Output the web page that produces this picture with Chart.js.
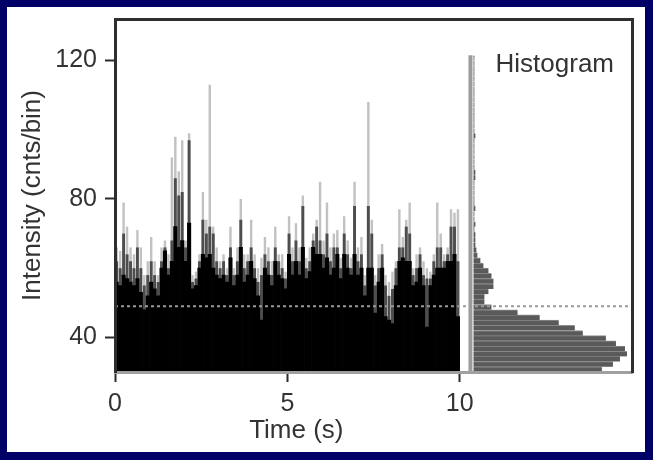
<!DOCTYPE html>
<html>
<head>
<meta charset="utf-8">
<script src="https://cdn.jsdelivr.net/npm/chart.js@4.4.1/dist/chart.umd.min.js"></script>
<style>
  html, body { margin: 0; padding: 0; background: #000066; }
  body { width: 653px; height: 460px; position: relative; overflow: hidden; }
  #panel { position: absolute; left: 7px; top: 7px; width: 638px; height: 445px; background: #fff; }
  #panel canvas { display: block; }
</style>
</head>
<body>
<div id="panel"><canvas id="trace-chart" width="638" height="445"></canvas></div>
<script>
// time bins of the trace (s)
const times = [
  0.05, 0.15, 0.25, 0.35, 0.45, 0.55, 0.65, 0.75, 0.85, 0.95,
  1.05, 1.15, 1.25, 1.35, 1.45, 1.55, 1.65, 1.75, 1.85, 1.95,
  2.05, 2.15, 2.25, 2.35, 2.45, 2.55, 2.65, 2.75, 2.85, 2.95,
  3.05, 3.15, 3.25, 3.35, 3.45, 3.55, 3.65, 3.75, 3.85, 3.95,
  4.05, 4.15, 4.25, 4.35, 4.45, 4.55, 4.65, 4.75, 4.85, 4.95,
  5.05, 5.15, 5.25, 5.35, 5.45, 5.55, 5.65, 5.75, 5.85, 5.95,
  6.05, 6.15, 6.25, 6.35, 6.45, 6.55, 6.65, 6.75, 6.85, 6.95,
  7.05, 7.15, 7.25, 7.35, 7.45, 7.55, 7.65, 7.75, 7.85, 7.95,
  8.05, 8.15, 8.25, 8.35, 8.45, 8.55, 8.65, 8.75, 8.85, 8.95,
  9.05, 9.15, 9.25, 9.35, 9.45, 9.55, 9.65, 9.75, 9.85, 9.95
];
// highest counts in each time bin (light spikes)
const peakCounts = [
  66, 65, 79, 72, 66, 64, 71, 66, 58, 62,
  69, 62, 58, 66, 68, 64, 92, 98, 88, 97,
  68, 99, 58, 59, 64, 82, 74, 113, 72, 66,
  62, 64, 60, 72, 60, 66, 80, 64, 64, 74,
  64, 60, 63, 69, 66, 62, 72, 64, 64, 59,
  75, 66, 73, 66, 81, 63, 66, 70, 74, 85,
  68, 79, 66, 70, 71, 63, 75, 68, 63, 85,
  66, 69, 58, 108, 74, 58, 64, 67, 58, 56,
  59, 62, 77, 69, 74, 79, 60, 64, 66, 62,
  60, 59, 64, 79, 70, 64, 66, 77, 76, 77
];
// upper typical counts (dark grey)
const midCounts = [
  62, 60, 70, 64, 62, 60, 66, 60, 55, 58,
  62, 58, 56, 62, 66, 60, 68, 86, 81, 82,
  66, 97, 56, 57, 62, 74, 70, 72, 70, 62,
  60, 62, 58, 66, 58, 62, 74, 60, 62, 66,
  60, 56, 58, 64, 62, 58, 66, 62, 60, 57,
  70, 62, 68, 62, 78, 60, 62, 68, 72, 68,
  64, 70, 62, 66, 66, 60, 70, 64, 60, 78,
  62, 64, 55, 78, 70, 55, 60, 64, 55, 52,
  54, 60, 66, 66, 72, 70, 58, 60, 64, 58,
  57, 57, 62, 66, 66, 62, 64, 72, 72, 62
];
// dense part of the trace (black)
const coreCounts = [
  56, 55, 58, 57, 56, 55, 57, 53, 48, 52,
  56, 54, 52, 60, 65, 58, 62, 72, 66, 68,
  62, 73, 54, 55, 60, 64, 63, 64, 60, 58,
  57, 58, 56, 63, 55, 58, 66, 56, 58, 62,
  57, 52, 45, 60, 58, 55, 62, 58, 57, 54,
  64, 58, 62, 58, 66, 57, 59, 66, 64, 64,
  60, 63, 58, 60, 64, 57, 64, 60, 58, 64,
  58, 60, 52, 60, 60, 47, 56, 60, 46, 45,
  44, 55, 62, 63, 62, 62, 55, 56, 60, 55,
  43, 55, 58, 60, 60, 60, 62, 62, 64, 46
];
// histogram bins (intensity, bin centres) and number of time bins in each
const histBins = [
  30.75, 32.25, 33.75, 35.25, 36.75, 38.25, 39.75, 41.25, 42.75, 44.25,
  45.75, 47.25, 48.75, 50.25, 51.75, 53.25, 54.75, 56.25, 57.75, 59.25,
  60.75, 62.25, 63.75, 65.25, 66.75, 68.25, 69.75, 71.25, 72.75, 74.25,
  75.75, 77.25, 78.75, 80.25, 81.75, 83.25, 84.75, 86.25, 87.75, 89.25,
  90.75, 92.25, 93.75, 95.25, 96.75, 98.25, 99.75, 101.25, 102.75, 104.25,
  105.75, 107.25, 108.75, 110.25, 111.75, 113.25, 114.75, 116.25, 117.75, 119.25,
  120.75
];
const histCounts = [
  128, 139, 146, 153, 151, 142, 132, 109, 101, 85,
  66, 44, 18, 11, 11, 15, 20, 20, 18, 15,
  10, 7, 4, 3, 2, 2, 2, 1, 2, 1,
  1, 2, 1, 1, 1, 1, 1, 2, 2, 1,
  1, 1, 1, 1, 1, 2, 1, 1, 1, 1,
  1, 1, 1, 1, 1, 1, 1, 1, 1, 1,
  1
];
const xTicks = [0, 5, 10];
const yTicks = [40, 80, 120];
const threshold = 49;

// layout of the shared frame
const timeMax = 15;      // right edge of the frame on the time axis
const histBase = 10.4;   // where the histogram starts on the time axis
const histMax = 158;     // counts reaching the right edge
const yMin = 30, yMax = 132;

const font = '"Liberation Sans", Arial, Helvetica, sans-serif';
const textColor = '#333';

const toPoints = vals => vals.map((v, i) => ({ x: times[i], y: v }));
const traceBar = { grouped: false, categoryPercentage: 1, borderWidth: 0 };

const overlay = {
  id: 'overlay',
  afterDatasetsDraw(chart) {
    const { ctx, chartArea: area, scales } = chart;
    ctx.save();
    // histogram axis line
    const half = (histBins[1] - histBins[0]) / 2;
    const hx = scales.xh.getPixelForValue(0) - 3;
    ctx.strokeStyle = '#9c9c9c';
    ctx.lineWidth = 4;
    ctx.beginPath();
    ctx.moveTo(hx, area.bottom);
    ctx.lineTo(hx, scales.yh.getPixelForValue(histBins[histBins.length - 1] + half));
    ctx.stroke();
    // threshold
    const ty = scales.y.getPixelForValue(threshold);
    ctx.setLineDash([3, 3]);
    ctx.strokeStyle = '#9a9a9a';
    ctx.lineWidth = 2;
    ctx.beginPath();
    ctx.moveTo(area.left, ty);
    ctx.lineTo(area.right, ty);
    ctx.stroke();
    ctx.setLineDash([]);
    // labels
    ctx.fillStyle = textColor;
    ctx.font = '26px ' + font;
    ctx.textBaseline = 'alphabetic';
    ctx.textAlign = 'right';
    ctx.fillText('Histogram', area.right - 18, area.top + 53);
    // time axis title, centred under the trace
    ctx.textAlign = 'center';
    ctx.fillText('Time (s)', scales.x.getPixelForValue(xTicks[1]) + 9, area.bottom + 66);
    ctx.restore();
  }
};

new Chart(document.getElementById('trace-chart'), {
  type: 'bar',
  data: {
    datasets: [
      Object.assign({ label: 'core', data: toPoints(coreCounts), backgroundColor: '#000', barPercentage: 1, order: 2 }, traceBar),
      Object.assign({ label: 'mid', data: toPoints(midCounts), backgroundColor: '#4d4d4d', barPercentage: 0.85, order: 3 }, traceBar),
      Object.assign({ label: 'peak', data: toPoints(peakCounts), backgroundColor: '#c2c2c2', barPercentage: 0.7, order: 4 }, traceBar),
      {
        label: 'histogram',
        data: histBins.map((b, i) => ({ x: histCounts[i], y: b })),
        indexAxis: 'y',
        xAxisID: 'xh',
        yAxisID: 'yh',
        backgroundColor: '#5a5a5a',
        borderColor: '#8e8e8e',
        borderWidth: { top: 1, bottom: 0, left: 0, right: 0 },
        borderSkipped: false,
        grouped: false,
        barPercentage: 1,
        categoryPercentage: 1,
        order: 1
      }
    ]
  },
  options: {
    responsive: false,
    animation: false,
    layout: { padding: { left: 0, top: 12, right: 13, bottom: 0 } },
    scales: {
      x: {
        type: 'linear',
        position: 'bottom',
        min: 0,
        max: timeMax,
        offset: false,
        afterBuildTicks: scale => { scale.ticks = xTicks.map(v => ({ value: v })); },
        afterFit: scale => { scale.height = 80; scale.paddingRight = 0; },
        grid: { drawOnChartArea: false, offset: false, tickLength: 10, tickWidth: 2, tickColor: '#2a2a2a' },
        border: { display: true, color: '#a0a0a0', width: 3, z: 1 },
        ticks: { color: textColor, font: { family: font, size: 25 }, padding: 7, maxRotation: 0 }
      },
      y: {
        type: 'linear',
        position: 'left',
        min: yMin,
        max: yMax,
        afterBuildTicks: scale => { scale.ticks = yTicks.map(v => ({ value: v })); },
        afterFit: scale => { scale.width = 108; scale.paddingTop = 0; scale.paddingBottom = 0; },
        grid: { drawOnChartArea: false, tickLength: 10, tickWidth: 2, tickColor: '#2a2a2a' },
        border: { display: true, color: '#2e2e2e', width: 3, z: 1 },
        ticks: { color: textColor, font: { family: font, size: 25 }, padding: 8 },
        title: { display: true, text: 'Intensity (cnts/bin)', color: textColor, font: { family: font, size: 26, lineHeight: 1.2 }, padding: { top: 10, bottom: 0 } }
      },
      xh: {
        axis: 'x',
        type: 'linear',
        position: 'top',
        min: -histMax * histBase / (timeMax - histBase),
        max: histMax,
        offset: false,
        afterFit: scale => { scale.height = 0; },
        grid: { display: false, drawTicks: false, offset: false },
        border: { display: true, color: '#2e2e2e', width: 3, z: 1 },
        ticks: { display: false }
      },
      yh: {
        axis: 'y',
        type: 'linear',
        position: 'right',
        min: yMin,
        max: yMax,
        offset: false,
        afterFit: scale => { scale.width = 0; },
        grid: { display: false, drawTicks: false, offset: false },
        border: { display: true, color: '#2e2e2e', width: 3, z: 1 },
        ticks: { display: false }
      }
    },
    plugins: {
      legend: { display: false },
      tooltip: { enabled: false }
    }
  },
  plugins: [overlay]
});
</script>
</body>
</html>
